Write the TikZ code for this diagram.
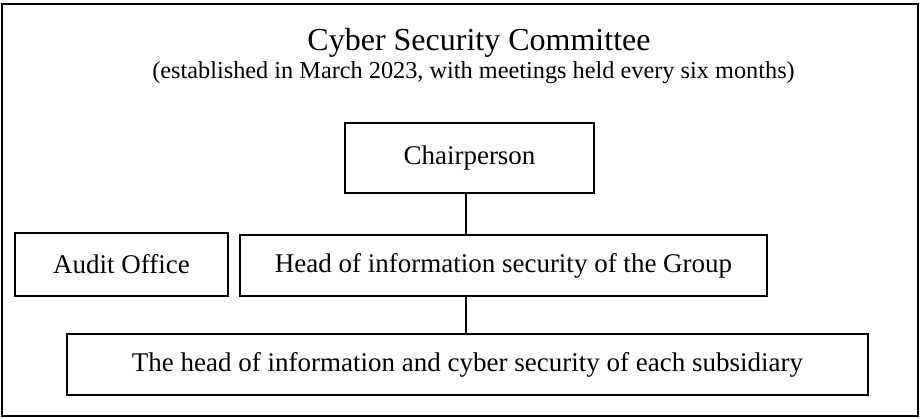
\documentclass[tikz,border=0pt]{standalone}
\usepackage{fontspec}
\setmainfont{Liberation Serif}
\usetikzlibrary{positioning}

\tikzset{
  orgbox/.style={draw, line width=1.7pt, inner sep=0pt, align=center,
    font=\fontsize{27}{32}\selectfont},
  orgline/.style={line width=2pt}
}

\begin{document}
\begin{tikzpicture}[x=1pt,y=-1pt]
  \useasboundingbox (0,0) rectangle (922,418);
  \draw[line width=2.4pt] (2,4) rectangle (918,416);

  \node[anchor=base, font=\fontsize{32}{38}\selectfont] (title) at (479,50) {Cyber Security Committee};
  \node[anchor=base, font=\fontsize{24.3}{29}\selectfont] (subtitle) at (473.5,78)
    {(established in March 2023, with meetings held every six months)};

  \node[orgbox, minimum width=249pt, minimum height=70pt] (chair) at (469.5,158) {Chairperson};
  \node[orgbox, minimum width=213pt, minimum height=63pt] (audit) at (121.5,264.5) {Audit Office};
  \node[orgbox, minimum width=527pt, minimum height=61pt] (head) at (503.5,265.5) {Head of information security of the Group};
  \node[orgbox, minimum width=801pt, minimum height=61pt] (sub) at (467.5,364.5)
    {The head of information and cyber security of each subsidiary};

  \coordinate (spine) at (466,0);
  \draw[orgline] (chair.south -| spine) -- (head.north -| spine);
  \draw[orgline] (head.south -| spine) -- (sub.north -| spine);
\end{tikzpicture}
\end{document}
